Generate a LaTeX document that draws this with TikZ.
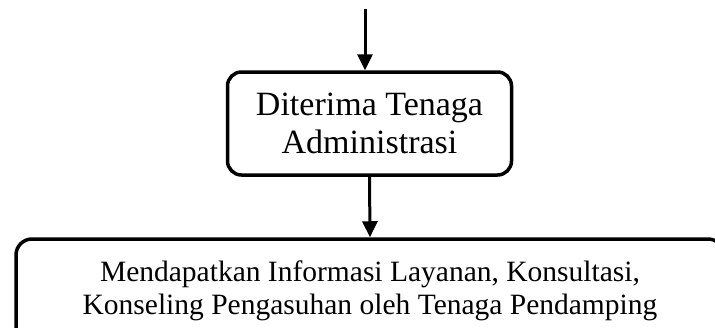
\documentclass[tikz,border=0pt]{standalone}
\usepackage{fontspec}
\setmainfont{Liberation Serif}
\usetikzlibrary{arrows.meta}
\begin{document}
\begin{tikzpicture}[x=1pt,y=-1pt,
  box/.style={draw=black,line width=3.5pt,rounded corners=14pt,align=center,inner sep=0pt},
  arr/.style={line width=3pt,-{Triangle[width=15pt,length=16pt]}}]
\useasboundingbox (0,0) rectangle (715,327);
\clip (0,0) rectangle (715,327);
\node[box,minimum width=284pt,minimum height=103pt,
  font=\fontsize{34}{38}\selectfont] (admin) at (369.5,123.5)
  {Diterima Tenaga\\Administrasi};
\node[box,rounded corners=16pt,minimum width=708pt,minimum height=104pt,
  font=\fontsize{29.5}{33}\selectfont] (info) at (370,291)
  {Mendapatkan Informasi Layanan, Konsultasi,\\Konseling Pengasuhan oleh Tenaga Pendamping};
\coordinate (start) at (365,9);
\draw[arr] (start) -- (start |- admin.north);
\draw[arr] (admin.south) -- (info.north);
\end{tikzpicture}
\end{document}
